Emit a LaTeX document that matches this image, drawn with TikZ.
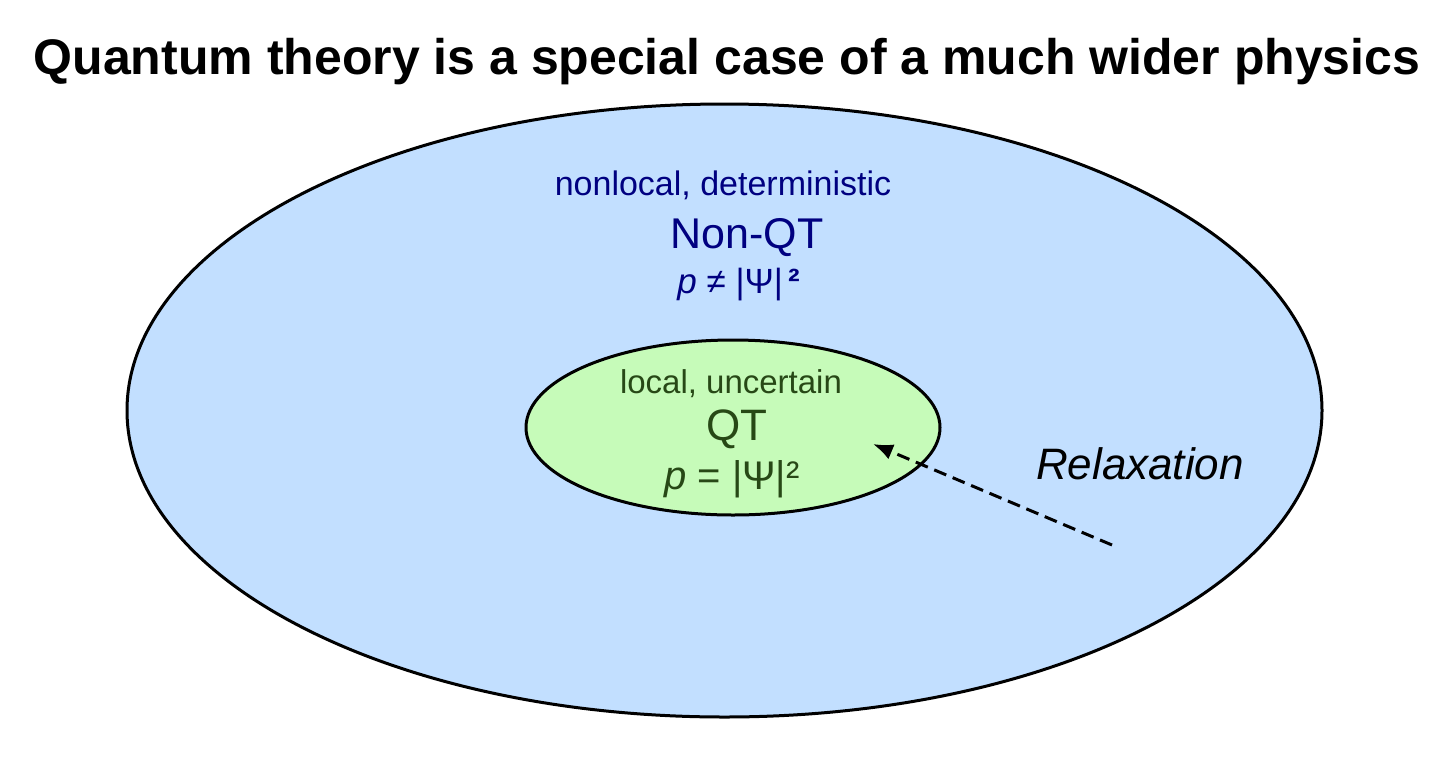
\documentclass[tikz,border=0pt]{standalone}
\usepackage{fontspec}
\setmainfont{Liberation Sans}
\usetikzlibrary{positioning,arrows.meta}
\definecolor{outerblue}{RGB}{194,223,255}
\definecolor{innergreen}{RGB}{198,251,185}
\definecolor{navytext}{RGB}{0,0,128}
\definecolor{greentext}{RGB}{39,72,22}

\begin{document}
\begin{tikzpicture}[x=1pt,y=-1pt,line width=3pt,
  lbl/.style={anchor=base,inner sep=0pt}]
  \useasboundingbox (0,0) rectangle (1456,777);

  % title
  \node[lbl,font=\fontsize{50}{60}\selectfont\bfseries] (title) at (727,74) {Quantum theory is a special case of a much wider physics};

  % the two regions
  \draw[fill=outerblue] (724.5,410.5) ellipse [x radius=597.5,y radius=306.5];
  \draw[fill=innergreen] (733,427.5) ellipse [x radius=207,y radius=87.5];

  % outer texts
  \node[lbl,text=navytext,font=\fontsize{34}{40}\selectfont] (nqtprop) at (723,195) {nonlocal, deterministic};
  \node[lbl,text=navytext,font=\fontsize{43}{50}\selectfont] (nqt) at (747,248) {Non-QT};
  \node[lbl,text=navytext,font=\fontsize{35}{42}\selectfont] (nqtrule) at (739,293) {\textit{p} ≠ |Ψ|\,\textbf{²}};

  % inner texts
  \node[lbl,text=greentext,font=\fontsize{33}{40}\selectfont] (qtprop) at (731,393) {local, uncertain};
  \node[lbl,text=greentext,font=\fontsize{44}{52}\selectfont] (qt) at (737,440) {QT};
  \node[lbl,text=greentext,font=\fontsize{40}{48}\selectfont] (qtrule) at (732,489) {\textit{p} = |Ψ|²};

  % relaxation
  \node[lbl,font=\fontsize{44}{52}\selectfont\itshape] (relax) at (1140,479) {Relaxation};
  \coordinate (tail) at (1112,545);
  \coordinate (head) at (873,444);
  \draw[-{Latex[length=20pt,width=16pt]},dash pattern=on 13pt off 7pt] (tail) -- (head);
\end{tikzpicture}
\end{document}
